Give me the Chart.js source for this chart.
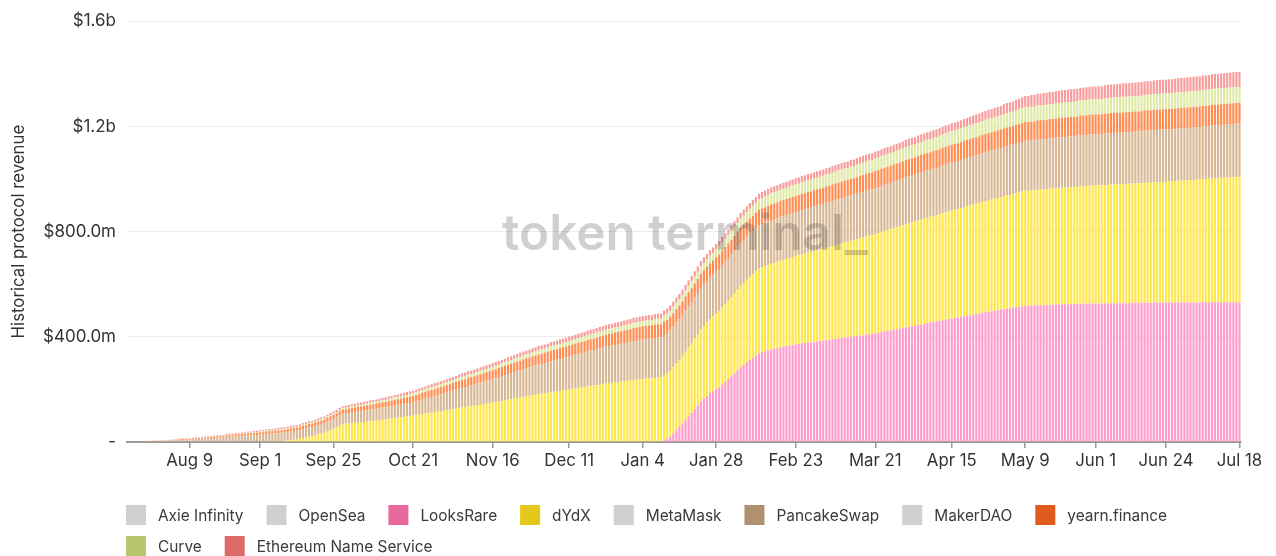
<!DOCTYPE html>
<html>
<head>
<meta charset="utf-8">
<script src="https://cdn.jsdelivr.net/npm/chart.js@4.4.0/dist/chart.umd.min.js"></script>
<style>
  html, body { margin: 0; padding: 0; background: #fff; }
  #wrap { width: 1276px; height: 556px; position: relative; }
</style>
</head>
<body>
<div id="wrap"><canvas id="chart-canvas"></canvas></div>
<script>
// daily cumulative revenue, $m, first bar = Jul 20 2021, last bar = Jul 18 2022
const startDate = [2021, 6, 20];
const tickLabels = ['Aug 9', 'Sep 1', 'Sep 25', 'Oct 21', 'Nov 16', 'Dec 11', 'Jan 4', 'Jan 28',
  'Feb 23', 'Mar 21', 'Apr 15', 'May 9', 'Jun 1', 'Jun 24', 'Jul 18'];
const yTicks = [0, 400, 800, 1200, 1600];

const looksRare = [
  0,0,0,0,0,0,0,0,0,0, 0,0,0,0,0,0,0,0,0,0, 0,0,0,0,0,0,0,0,0,0, 0,0,0,0,0,0,0,0,0,0,
  0,0,0,0,0,0,0,0,0,0, 0,0,0,0,0,0,0,0,0,0, 0,0,0,0,0,0,0,0,0,0, 0,0,0,0,0,0,0,0,0,0,
  0,0,0,0,0,0,0,0,0,0, 0,0,0,0,0,0,0,0,0,0, 0,0,0,0,0,0,0,0,0,0, 0,0,0,0,0,0,0,0,0,0,
  0,0,0,0,0,0,0,0,0,0, 0,0,0,0,0,0,0,0,0,0, 0,0,0,0,0,0,0,0,0,0, 0,0,0,0,0,0,0,0,0,0,
  0,0,0,0,0,0,0,0,0,0,
  0,0,0,0,0,7,13,20,32,45,
  57,70,84,97,110,125,140,155,165,175,
  185,193,200,208,219,229,240,250,261,273,
  284,293,303,312,320,329,337,341,345,348,
  352,354,357,359,362,364,367,369,372,373,
  375,376,378,379,381,382,384,385,387,388,
  390,392,393,395,397,398,400,401,403,405,
  406,408,410,411,413,415,418,420,422,424,
  427,429,431,433,436,438,440,442,445,447,
  449,452,454,456,458,461,463,465,468,470,
  472,474,476,478,480,482,485,487,489,491,
  493,495,497,499,501,503,505,507,508,510,
  512,514,516,518,518,519,519,520,520,521,
  521,522,522,523,523,524,524,524,525,525,
  525,526,526,526,527,527,527,527,527,527,
  527,528,528,528,528,528,528,528,529,529,
  529,529,529,529,529,530,530,530,530,530,
  530,530,530,530,530,530,530,530,530,530,
  530,531,531,531,531,531,531,531,531,531,
  531,531,531,531
];

const dydx = [
  0,0,0,0,0,0,0,0,0,0, 0,0,0,0,0,0,0,0,0,0, 0,0,0,0,0,0,0,0,0,0, 0,0,0,0,0,0,0,0,0,0,
  0,0,0,0,0,1,2,2,3,3,
  4,5,6,8,9,10,12,15,17,20,
  22,25,29,32,35,40,45,50,56,62,
  68,69,70,72,73,74,75,76,78,79,
  80,82,83,85,86,88,89,91,92,94,
  95,97,98,100,102,104,106,108,110,112,
  113,115,117,119,121,123,125,127,129,131,
  133,135,137,138,140,142,144,146,148,150,
  152,154,156,159,161,163,165,167,169,172,
  174,176,178,180,182,183,185,187,189,191,
  193,194,196,198,200,202,204,205,207,209,
  211,213,215,216,218,220,222,224,225,227,
  228,230,231,233,234,236,237,239,240,241,
  242,242,243,244,245,247,248,250,252,253,
  255,258,260,263,265,268,270,273,276,279,
  281,284,287,290,293,296,299,301,304,307,
  310,312,314,316,318,320,322,323,324,325,
  326,327,328,330,331,332,333,334,335,337,
  338,340,342,343,345,347,348,350,352,353,
  355,357,358,360,362,363,365,366,368,370,
  371,373,375,376,378,379,381,382,384,385,
  387,388,389,391,392,394,395,396,397,398,
  400,401,402,403,404,405,407,408,409,410,
  411,412,413,415,416,417,418,419,420,422,
  423,424,425,426,427,428,429,430,431,432,
  433,435,436,437,437,438,438,439,439,440,
  440,441,441,442,442,443,443,444,444,445,
  445,446,446,447,447,448,448,449,449,450,
  450,451,451,452,452,453,453,454,454,455,
  455,456,456,457,457,458,458,459,459,460,
  461,461,462,463,464,464,465,466,466,467,
  468,469,469,470,471,472,472,473,474,475,
  475,476,477,478
];

const pancakeSwap = [
  0,0,1,1,2,2,2,3,3,4,
  4,5,5,6,6,7,7,8,8,9,
  9,10,11,11,12,13,14,15,15,16,
  17,18,19,20,20,21,22,23,24,25,
  25,26,27,28,28,29,29,30,30,31,
  31,31,32,32,33,33,33,34,34,35,
  35,36,36,36,37,37,38,38,38,39,
  39,40,40,41,41,42,42,43,43,44,
  44,44,45,45,46,46,47,47,48,48,
  49,49,50,50,52,53,55,56,58,59,
  61,62,64,65,67,68,70,72,73,75,
  76,78,79,81,82,84,85,87,88,90,
  92,93,95,96,98,99,101,102,104,105,
  107,108,110,111,113,114,115,116,118,119,
  120,121,123,124,125,126,128,129,130,131,
  133,134,135,136,138,139,140,141,142,142,
  143,144,145,146,147,148,148,149,150,150,
  151,151,152,152,152,153,153,154,154,155,
  155,155,156,156,157,157,157,158,158,158,
  159,159,160,160,160,161,161,162,162,162,
  163,163,163,164,164,165,165,165,165,166,
  166,166,166,167,167,167,167,168,168,168,
  169,169,169,169,170,170,170,170,171,171,
  171,171,172,172,172,172,173,173,173,173,
  174,174,174,174,175,175,175,176,176,176,
  176,177,177,177,177,178,178,178,178,179,
  179,179,179,180,180,180,181,181,181,182,
  182,182,183,183,183,184,184,184,185,185,
  185,186,186,186,187,187,187,188,188,188,
  189,189,189,190,190,190,190,191,191,191,
  191,192,192,192,192,192,193,193,193,193,
  194,194,194,194,195,195,195,195,195,196,
  196,196,196,196,196,197,197,197,197,197,
  197,197,198,198,198,198,198,198,198,198,
  198,198,199,199,199,199,199,199,200,200,
  200,200,200,200,201,201,201,201,201,201,
  202,202,202,202
];

const yearn = [
  0,0,0,0,0,1,1,1,1,1,
  1,1,1,2,2,2,2,2,3,3,
  3,3,3,4,4,4,4,4,5,5,
  5,5,6,6,6,7,7,7,7,8,
  8,8,8,9,9,10,10,10,10,11,
  11,11,11,12,12,12,12,13,13,13,
  13,14,14,14,14,15,15,15,15,16,
  16,16,17,17,17,18,18,19,19,19,
  20,20,21,21,21,22,22,23,23,23,
  24,24,25,25,25,26,26,26,27,27,
  27,28,28,28,28,29,29,29,30,30,
  30,31,31,31,32,32,32,32,33,33,
  33,34,34,34,35,35,35,36,36,37,
  37,37,38,38,38,39,39,39,40,40,
  40,41,41,41,42,42,42,43,43,43,
  44,44,44,45,45,45,46,46,46,47,
  47,47,48,48,48,49,49,49,50,50,
  50,50,51,51,51,51,51,52,52,52,
  52,52,53,53,53,53,53,54,54,54,
  54,54,55,55,55,55,56,56,56,57,
  57,57,58,58,58,58,59,59,59,59,
  60,60,60,60,60,61,61,61,61,61,
  61,61,62,62,62,62,62,62,62,62,
  63,63,63,63,63,63,63,63,63,64,
  64,64,64,64,64,64,65,65,65,65,
  65,65,66,66,66,66,66,66,67,67,
  67,67,67,67,67,67,68,68,68,68,
  68,68,68,69,69,69,69,69,69,70,
  70,70,70,70,70,70,71,71,71,71,
  71,71,72,72,72,72,72,73,73,73,
  73,73,73,73,74,74,74,74,74,74,
  74,75,75,75,75,75,75,75,75,75,
  76,76,76,76,76,76,76,76,76,76,
  76,76,77,77,77,77,77,77,77,77,
  77,77,77,77,77,78,78,78,78,78,
  78,78,78,78,78,78,78,79,79,79,
  79,79,79,79
];

const curve = [
  0,0,0,0,0,0,0,0,0,0,
  0,0,0,0,0,1,1,1,1,1,
  1,1,1,1,1,1,1,2,2,2,
  2,2,2,2,2,2,2,2,2,3,
  3,3,3,3,3,3,3,3,3,3,
  3,3,3,4,4,4,4,4,4,4,
  4,4,4,4,4,5,5,5,5,5,
  5,5,6,6,6,6,6,6,6,7,
  7,7,7,7,7,7,8,8,8,8,
  8,9,9,9,9,9,9,10,10,10,
  10,10,10,11,11,11,11,11,12,12,
  12,12,12,12,12,13,13,13,13,13,
  13,13,14,14,14,14,14,15,15,15,
  15,15,15,15,16,16,16,16,16,16,
  17,17,17,17,17,17,17,18,18,18,
  18,18,18,18,18,19,19,19,19,19,
  19,19,19,19,20,20,20,20,20,20,
  21,21,22,22,22,23,23,23,24,24,
  24,24,25,25,26,26,27,27,28,28,
  29,29,30,30,31,32,32,33,34,34,
  35,36,36,37,38,38,39,40,40,41,
  42,42,42,43,43,43,43,43,43,43,
  44,44,44,44,44,44,45,45,45,45,
  45,45,46,46,46,46,46,46,47,47,
  47,47,47,47,48,48,48,48,48,48,
  48,48,48,49,49,49,49,49,50,50,
  50,50,50,50,51,51,51,51,51,52,
  52,52,52,52,52,53,53,53,53,53,
  54,54,54,54,54,54,55,55,55,55,
  55,55,56,56,56,56,56,56,56,56,
  57,57,57,57,57,57,57,57,57,57,
  57,58,58,58,58,58,58,58,58,58,
  58,58,58,59,59,59,59,59,59,59,
  59,59,59,59,59,60,60,60,60,60,
  60,60,60,60,60,60,60,60,60,60,
  60,61,61,61,61,61,61,61,61,61,
  61,61,61,61
];

const ens = [
  0,0,0,0,0,0,1,1,1,1,
  1,1,1,1,1,1,2,2,2,2,
  2,2,2,2,2,3,3,3,3,3,
  3,3,3,4,4,4,4,4,4,4,
  4,5,5,5,5,5,5,5,5,6,
  6,6,6,6,6,6,6,6,7,7,
  7,7,7,7,7,7,7,8,8,8,
  8,8,8,8,8,9,9,9,9,9,
  9,9,9,10,10,10,10,10,10,10,
  11,11,11,11,11,11,11,11,11,12,
  12,12,12,12,12,12,12,12,13,13,
  13,13,13,13,13,13,14,14,14,14,
  14,14,14,14,14,15,15,15,15,15,
  15,15,15,16,16,16,16,16,16,16,
  16,17,17,17,17,17,17,17,17,17,
  17,18,18,18,18,18,18,18,18,18,
  18,18,19,19,19,19,19,19,19,19,
  19,19,19,19,19,19,20,20,20,20,
  20,20,20,20,20,20,20,21,21,21,
  21,21,21,21,21,21,21,21,22,22,
  22,22,22,22,22,22,22,23,23,23,
  23,23,23,23,23,23,23,23,24,24,
  24,24,24,24,24,24,24,24,24,25,
  25,25,25,25,25,25,25,25,25,25,
  26,26,26,26,26,26,26,27,27,27,
  27,27,27,27,28,28,28,28,28,28,
  28,29,29,29,29,29,29,30,30,30,
  30,31,31,31,32,32,32,33,33,33,
  34,34,34,35,35,36,37,38,38,39,
  40,41,42,43,43,44,45,45,45,46,
  46,46,46,47,47,47,47,47,48,48,
  48,48,48,49,49,49,49,49,49,50,
  50,50,50,50,51,51,51,51,51,51,
  52,52,52,52,52,52,53,53,53,53,
  53,53,53,54,54,54,54,54,55,55,
  55,55,55,55,56,56,56,56,56,56,
  57,57,57,57
];

const MONTHS = ['Jan', 'Feb', 'Mar', 'Apr', 'May', 'Jun', 'Jul', 'Aug', 'Sep', 'Oct', 'Nov', 'Dec'];
const dates = [];
for (let i = 0; i < looksRare.length; i++) {
  const d = new Date(Date.UTC(startDate[0], startDate[1], startDate[2] + i));
  dates.push(MONTHS[d.getUTCMonth()] + ' ' + d.getUTCDate());
}

const FONT = 'Inter, "DejaVu Sans", sans-serif';
const GREY = '#d0d0d0';

function series(label, data, color, legendColor, hidden) {
  return {
    label,
    data,
    backgroundColor: color,
    legendColor,
    hidden: !!hidden,
    borderWidth: 0,
    barPercentage: 0.7,
    categoryPercentage: 1.0,
    stack: 'rev',
  };
}

const watermark = {
  id: 'watermark',
  afterDatasetsDraw(chart) {
    const {ctx} = chart;
    const text = 'token terminal_';
    ctx.save();
    ctx.font = `600 46px ${FONT}`;
    const size = 46 * 366 / ctx.measureText(text).width;
    ctx.font = `600 ${size}px ${FONT}`;
    ctx.fillStyle = 'rgba(60, 60, 60, 0.24)';
    ctx.textAlign = 'left';
    ctx.textBaseline = 'alphabetic';
    ctx.fillText(text, 502, 250);
    ctx.restore();
  },
};

const bottomLegend = {
  id: 'bottomLegend',
  afterDraw(chart) {
    const {ctx, chartArea} = chart;
    ctx.save();
    ctx.font = `15.4px ${FONT}`;
    ctx.textBaseline = 'middle';
    ctx.textAlign = 'left';
    const left = chartArea.left - 1;
    let x = left;
    let y = 515;
    chart.data.datasets.forEach((ds) => {
      const w = 32 + ctx.measureText(ds.label).width;
      if (x > left && x + w > chartArea.right) {
        x = left;
        y += 31;
      }
      ctx.fillStyle = ds.legendColor;
      ctx.fillRect(x, y - 10, 20, 20);
      ctx.fillStyle = '#3a3a3a';
      ctx.fillText(ds.label, x + 32, y + 1);
      x += w + 23;
    });
    ctx.restore();
  },
};

function createChart() {
  const canvas = document.getElementById('chart-canvas');

  const data = {
    labels: dates,
    datasets: [
      series('Axie Infinity', [], GREY, GREY, true),
      series('OpenSea', [], GREY, GREY, true),
      series('LooksRare', looksRare, '#ff9bca', '#e8699c'),
      series('dYdX', dydx, '#ffe64b', '#e6c71b'),
      series('MetaMask', [], GREY, GREY, true),
      series('PancakeSwap', pancakeSwap, '#d8b794', '#b0916e'),
      series('MakerDAO', [], GREY, GREY, true),
      series('yearn.finance', yearn, '#ff8b50', '#e05a1e'),
      series('Curve', curve, '#e0eaa6', '#b9c56e'),
      series('Ethereum Name Service', ens, '#f89b9b', '#dd6a66'),
    ],
  };

  const options = {
    type: 'bar',
    data,
    plugins: [watermark, bottomLegend],
    options: {
      responsive: true,
      maintainAspectRatio: false,
      animation: false,
      layout: { padding: { top: 20, right: 35, bottom: 74, left: 0 } },
      plugins: {
        legend: { display: false },
        tooltip: { enabled: false },
      },
      scales: {
        x: {
          stacked: true,
          offset: true,
          grid: {
            display: true,
            offset: false,
            drawOnChartArea: false,
            drawTicks: true,
            tickLength: 6,
            color: '#999',
            lineWidth: 1.5,
          },
          border: { display: true, color: '#999', width: 2 },
          ticks: {
            autoSkip: false,
            maxRotation: 0,
            minRotation: 0,
            padding: 3,
            color: '#333',
            font: { family: FONT, size: 16.8 },
          },
          afterBuildTicks: (scale) => {
            scale.ticks = scale.ticks.filter((t) => tickLabels.includes(dates[t.value]));
          },
          afterFit: (scale) => { scale.height = 40; },
        },
        y: {
          stacked: true,
          min: yTicks[0],
          max: yTicks[yTicks.length - 1],
          afterBuildTicks: (scale) => {
            scale.ticks = yTicks.map((v) => ({ value: v }));
          },
          grid: { color: '#ececec', lineWidth: 1, drawTicks: false },
          border: { display: false },
          ticks: {
            padding: 11,
            color: '#333',
            font: { family: FONT, size: 17 },
            callback: (v) => {
              if (v === 0) return '-';
              if (v >= 1000) return '$' + (v / 1000).toFixed(1) + 'b';
              return '$' + v.toFixed(1) + 'm';
            },
          },
          title: {
            display: true,
            text: 'Historical protocol revenue',
            color: '#333',
            padding: { top: 9, bottom: 0 },
            font: { family: FONT, size: 16.8 },
          },
          afterFit: (scale) => { scale.width = 127; },
        },
      },
    },
  };

  const chart = new Chart(canvas, options);
  console.log(chart);
}

document.addEventListener('DOMContentLoaded', createChart);
</script>
</body>
</html>
